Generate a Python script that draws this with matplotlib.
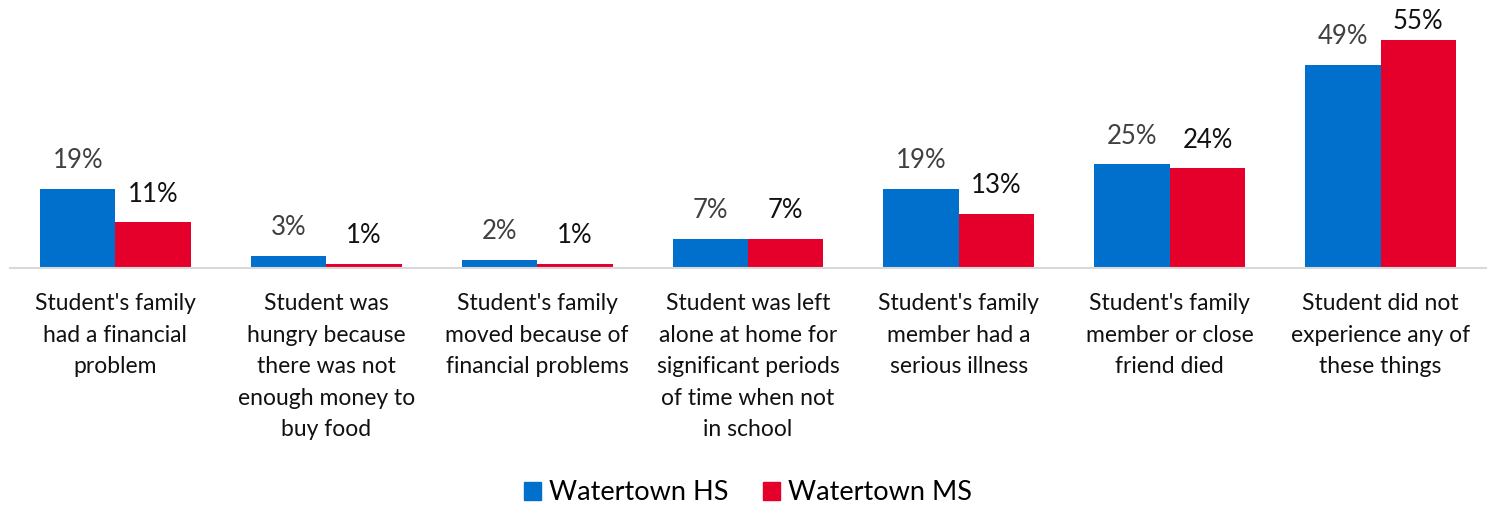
import matplotlib
matplotlib.use("Agg")
import matplotlib.pyplot as plt
from matplotlib.patches import Patch
import numpy as np

plt.rcParams['font.family'] = ['Lato', 'DejaVu Sans']

categories = [
    "Student's family\nhad a financial\nproblem",
    "Student was\nhungry because\nthere was not\nenough money to\nbuy food",
    "Student's family\nmoved because of\nfinancial problems",
    "Student was left\nalone at home for\nsignificant periods\nof time when not\nin school",
    "Student's family\nmember had a\nserious illness",
    "Student's family\nmember or close\nfriend died",
    "Student did not\nexperience any of\nthese things",
]
hs_values = [19, 3, 2, 7, 19, 25, 49]
ms_values = [11, 1, 1, 7, 13, 24, 55]
series_names = ["Watertown HS", "Watertown MS"]

BLUE = "#0070CC"
RED = "#E4002B"

fig = plt.figure(figsize=(14.96, 5.09), dpi=100)
ax = fig.add_axes([10 / 1496, 1 - 268 / 509, 1476 / 1496, (268 - 19) / 509])

x = np.arange(len(categories))
w = 0.358
bars_hs = ax.bar(x - w / 2, hs_values, w, color=BLUE)
bars_ms = ax.bar(x + w / 2, ms_values, w, color=RED)

YMAX = 60
# labels sit ~28px above the bar, but get squeezed under the top of the plot area
for bars, vals, col in [(bars_hs, hs_values, "#404040"), (bars_ms, ms_values, "#111111")]:
    for b, v in zip(bars, vals):
        ax.text(b.get_x() + b.get_width() / 2, min(v + 6.8, YMAX - 0.6), f"{v}%",
                ha="center", va="center", fontsize=18.5, color=col)

ax.set_xlim(-0.5, len(categories) - 0.5)
ax.set_ylim(0, YMAX)
ax.set_yticks([])
for s in ["top", "right", "left"]:
    ax.spines[s].set_visible(False)
ax.spines["bottom"].set_color("#D9D9D9")
ax.spines["bottom"].set_linewidth(1.5)
ax.set_xticks(x)
ax.set_xticklabels(categories, fontsize=16.5, linespacing=1.62, color="#111111")
ax.tick_params(axis="x", length=0, pad=18)

handles = [Patch(color=BLUE), Patch(color=RED)]
fig.legend(handles, series_names, loc="center", bbox_to_anchor=(0.5, 1 - 493 / 509),
           ncol=2, frameon=False, fontsize=19.5, handlelength=0.6, handleheight=0.6,
           handletextpad=0.3, columnspacing=1.3)

fig.savefig("out.png", dpi=100)
